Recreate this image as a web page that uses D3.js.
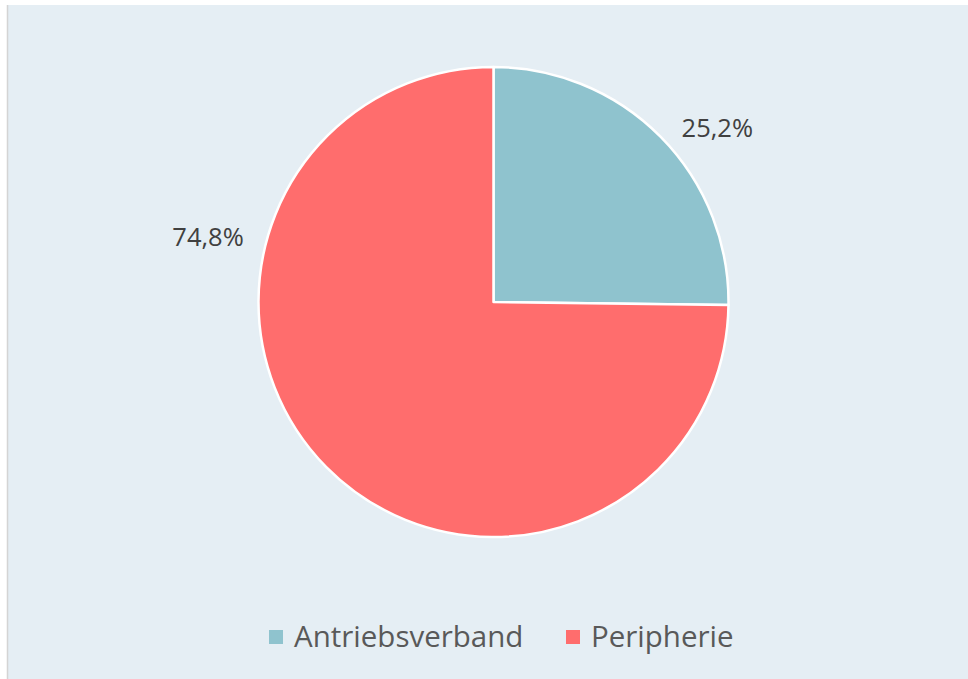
<!DOCTYPE html>
<html>
<head>
<meta charset="utf-8">
<script src="https://cdn.jsdelivr.net/npm/d3@7"></script>
<style>
  body{margin:0;background:#ffffff;}
  svg{display:block;}
</style>
</head>
<body>
<div id="chart"></div>
<script>
// data
var categories=["Antriebsverband","Peripherie"];
var values=[25.2,74.8];
var valueLabels=["25,2%","74,8%"];
var colors=["#8fc3ce","#ff6d6d"];

var W=968,H=679;
var cP={x:493.5,y:302};
var radius=235;
// label placement (angle in degrees from 12 o'clock, distance from centre)
var labelPos=[{a:52,r:284},{a:283,r:293}];

var svg=d3.select("#chart").append("svg").attr("width",W).attr("height",H);

// chart area
svg.append("rect").attr("x",8).attr("y",5).attr("width",W-8).attr("height",H-5)
  .style("fill","#e5eef4");
svg.append("line").attr("x1",7.5).attr("y1",5).attr("x2",7.5).attr("y2",H)
  .style("stroke","#d4d4d4").style("stroke-width",1.5);

var pie=d3.pie().sort(null).value(function(d){return d;});
var arc=d3.arc().innerRadius(0).outerRadius(radius);
var arcs=pie(values);

var g=svg.append("g").attr("transform","translate("+cP.x+","+cP.y+")");
g.selectAll("path.slice").data(arcs).enter().append("path")
  .attr("class","slice")
  .attr("d",arc)
  .style("fill",function(d,i){return colors[i];})
  .style("stroke","#ffffff").style("stroke-width",2.5).style("stroke-linejoin","round");

// value labels
g.selectAll("text.val").data(arcs).enter().append("text")
  .attr("class","val")
  .attr("x",function(d,i){return labelPos[i].r*Math.sin(labelPos[i].a*Math.PI/180);})
  .attr("y",function(d,i){return -labelPos[i].r*Math.cos(labelPos[i].a*Math.PI/180);})
  .attr("text-anchor","middle").attr("dominant-baseline","central")
  .style("font-family","'Open Sans', sans-serif").style("font-size","25.5px")
  .style("fill","#404040")
  .text(function(d,i){return valueLabels[i];});

// legend
var legend=svg.append("g").attr("class","legend");
var legX=[269,566];
var item=legend.selectAll("g").data(categories).enter().append("g")
  .attr("transform",function(d,i){return "translate("+legX[i]+",630)";});
item.append("rect").attr("width",14).attr("height",14)
  .style("fill",function(d,i){return colors[i];});
item.append("text").attr("x",25).attr("y",17)
  .style("font-family","'Open Sans', sans-serif").style("font-size","29.5px")
  .style("fill","#595959")
  .text(function(d){return d;});
</script>
</body>
</html>
